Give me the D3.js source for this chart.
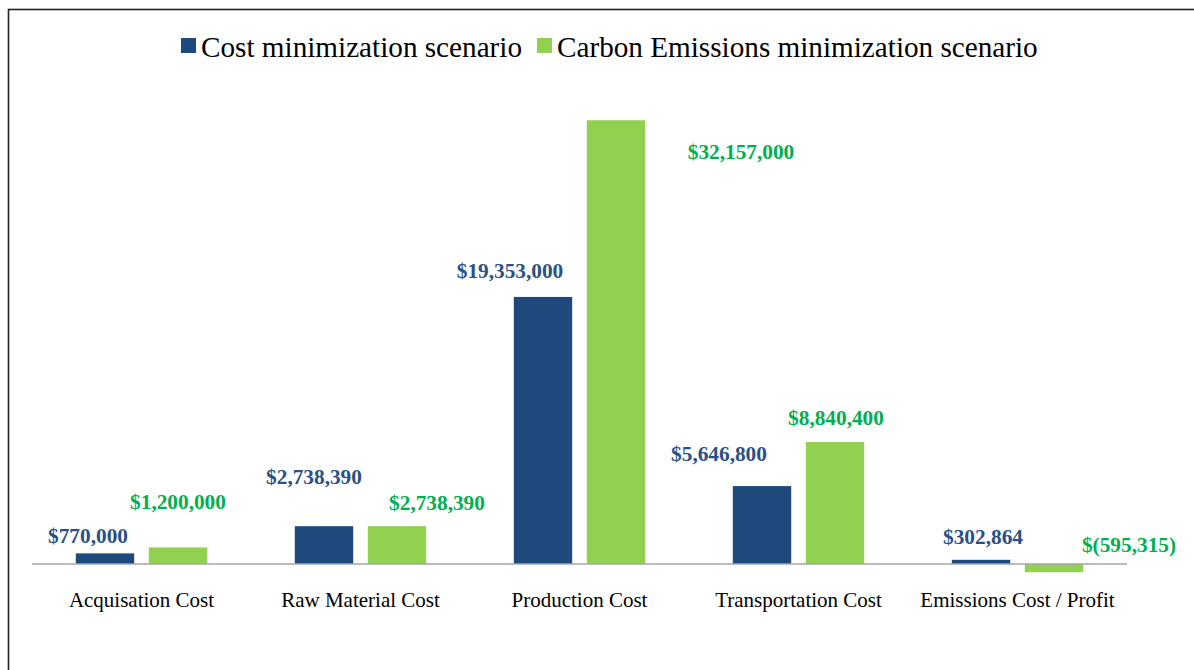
<!DOCTYPE html>
<html>
<head>
<meta charset="utf-8">
<script src="https://cdn.jsdelivr.net/npm/d3@7"></script>
<style>
  body { margin: 0; background: #fff; }
  svg { display: block; }
</style>
</head>
<body>
<div id="chart"></div>
<script>
const categories = ["Acquisation Cost", "Raw Material Cost", "Production Cost", "Transportation Cost", "Emissions Cost / Profit"];
const seriesNames = ["Cost minimization scenario", "Carbon Emissions minimization scenario"];
const costScenario = [770000, 2738390, 19353000, 5646800, 302864];
const carbonScenario = [1200000, 2738390, 32157000, 8840400, -595315];

// data labels were nudged by hand in the original, keep the nudges apart
const labelNudge = [
  [[-17, -10], [-10, -42], [-33, -19], [-43, -25], [2, -16]],
  [[0, -38], [40, -16], [125, 39], [1, -17], [75, -12]]
];

const w = 1194, h = 670;
const barColors = ["#1f497d", "#92d050"];
const labelColors = ["#2a5186", "#00b050"];

const svg = d3.select("#chart").append("svg").attr("width", w).attr("height", h);

// outer frame (right and bottom edges run off the picture)
svg.append("rect")
  .attr("x", 8.5).attr("y", 9.5)
  .attr("width", 1200).attr("height", 700)
  .attr("fill", "none").attr("stroke", "#222").attr("stroke-width", 1.6);

let x0 = d3.scaleBand().domain(categories).range([32, 1127]);
let x1 = d3.scaleBand().domain([0, 1])
  .range([x0.bandwidth() * 0.2, x0.bandwidth() * 0.8])
  .paddingInner(0.2);
let y = d3.scaleLinear().domain([-5000000, 35000000]).range([633, 81]);

let rows = categories.map((c, i) => ({ cat: c, vals: [costScenario[i], carbonScenario[i]], i: i }));

let groups = svg.selectAll(".grp").data(rows).enter().append("g")
  .attr("class", "grp")
  .attr("transform", d => `translate(${x0(d.cat)},0)`);

groups.selectAll("rect").data(d => d.vals.map((v, s) => ({ v: v, s: s, i: d.i })))
  .enter().append("rect")
  .attr("x", d => x1(d.s))
  .attr("width", x1.bandwidth())
  .attr("y", d => y(Math.max(d.v, 0)))
  .attr("height", d => Math.abs(y(d.v) - y(0)))
  .attr("fill", d => barColors[d.s]);

// baseline
svg.append("line")
  .attr("x1", 32).attr("x2", 1127)
  .attr("y1", y(0)).attr("y2", y(0))
  .attr("stroke", "#a6a6a6").attr("stroke-width", 1.6);

const fmt = d3.format(",.0f");
const money = v => v < 0 ? "$(" + fmt(-v) + ")" : "$" + fmt(v);

groups.selectAll(".val").data(d => d.vals.map((v, s) => ({ v: v, s: s, i: d.i })))
  .enter().append("text")
  .attr("class", "val")
  .attr("x", d => x1(d.s) + x1.bandwidth() / 2 + labelNudge[d.s][d.i][0])
  .attr("y", d => y(Math.max(d.v, 0)) + labelNudge[d.s][d.i][1])
  .attr("text-anchor", "middle")
  .style("font", "bold 21.3px 'Liberation Serif', 'Times New Roman', serif")
  .attr("fill", d => labelColors[d.s])
  .text(d => money(d.v));

// category labels
svg.selectAll(".cat").data(categories).enter().append("text")
  .attr("class", "cat")
  .attr("x", d => x0(d) + x0.bandwidth() / 2)
  .attr("y", 607)
  .attr("text-anchor", "middle")
  .style("font", "21px 'Liberation Serif', 'Times New Roman', serif")
  .attr("fill", "#000")
  .text(d => d);

// legend
let legendX = [181, 537];
let legend = svg.selectAll(".legend").data(seriesNames).enter().append("g")
  .attr("class", "legend")
  .attr("transform", (d, i) => `translate(${legendX[i]},38)`);
legend.append("rect")
  .attr("width", 15).attr("height", 15)
  .attr("fill", (d, i) => barColors[i]);
legend.append("text")
  .attr("x", 20).attr("y", 19)
  .style("font", "29.2px 'Liberation Serif', 'Times New Roman', serif")
  .attr("fill", "#000")
  .text(d => d);
</script>
</body>
</html>
